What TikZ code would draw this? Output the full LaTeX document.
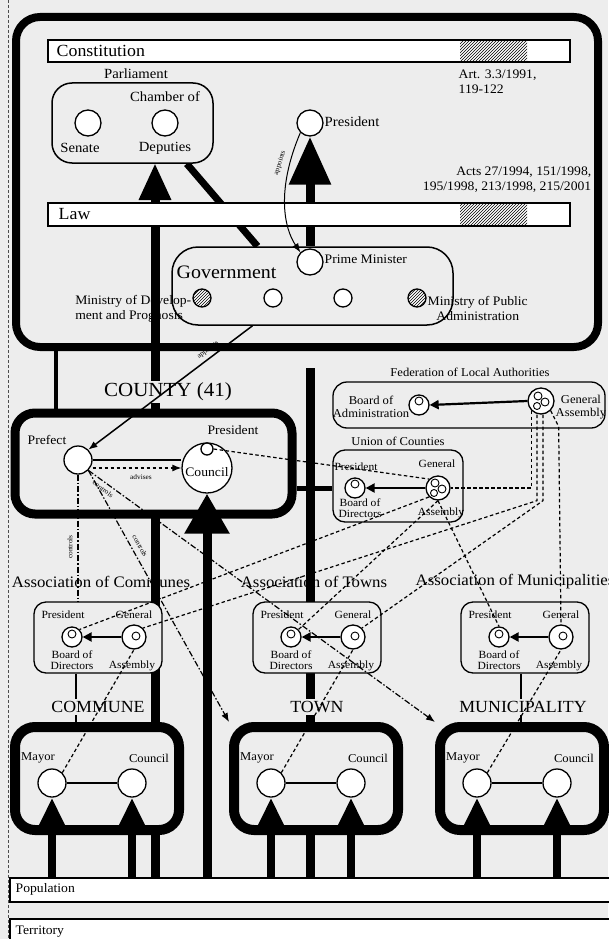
\documentclass[tikz,border=0pt]{standalone}
\usepackage{fontspec}
\setmainfont{Liberation Serif}[FakeStretch=1.05]
\usetikzlibrary{arrows.meta,patterns}
\definecolor{bg}{HTML}{EDEDED}
\pgfdeclarelayer{base}
\pgfdeclarelayer{lines}
\pgfsetlayers{base,lines,main}

\tikzset{
  heavybox/.style={draw, line width=9pt, rounded corners=20pt, fill=bg, inner sep=0pt},
  lightbox/.style={draw, line width=1.3pt, rounded corners=12pt, fill=bg, inner sep=0pt},
  barbox/.style={draw, line width=1.2pt, fill=white, inner sep=0pt},
  hatchbox/.style={pattern=north east lines, inner sep=0pt},
  org/.style={circle, draw, line width=1.3pt, fill=white, inner sep=0pt, minimum size=#1},
  org/.default=26pt,
  hatched/.style={preaction={fill=white}, pattern=north east lines},
  t7/.style={font=\fontsize{7}{8}\selectfont, inner sep=0.5pt},
  t11/.style={font=\fontsize{11}{11.5}\selectfont, inner sep=0.5pt},
  t12/.style={font=\fontsize{12}{13}\selectfont, inner sep=0.5pt},
  t13/.style={font=\fontsize{13}{15}\selectfont, inner sep=0.5pt},
  t14/.style={font=\fontsize{14}{16}\selectfont, inner sep=0.5pt},
  t16/.style={font=\fontsize{16}{18}\selectfont, inner sep=0.5pt},
  t17/.style={font=\fontsize{17}{19}\selectfont, inner sep=0.5pt},
  t19/.style={font=\fontsize{19}{21}\selectfont, inner sep=0.5pt},
  t20/.style={font=\fontsize{20}{22}\selectfont, inner sep=0.5pt},
  vote/.style={line width=9pt},
  link/.style={line width=1.2pt, dash pattern=on 3.5pt off 2.5pt},
  ctrl/.style={line width=1.2pt, dash pattern=on 6pt off 2pt on 1.5pt off 2pt},
  headed/.style={-{Latex[length=9pt,width=7pt]}},
  inner/.style={line width=2.2pt, -{Triangle[width=9pt,length=9pt]}},
  small/.style={line width=0.9pt},
}

\begin{document}
\begin{tikzpicture}[x=1pt,y=-1pt]
\useasboundingbox (0,0) rectangle (608,939);

% ---------- background and state frame
\begin{pgfonlayer}{base}
  \fill[bg] (0,0) rectangle (608,939);
  \draw[line width=0.6pt, dash pattern=on 3pt off 2pt, black!70] (8,0) -- (8,939);
  \node[heavybox, line width=8pt, rounded corners=24pt, minimum width=582pt, minimum height=330pt] (outer) at (307,182) {};
\end{pgfonlayer}

% ---------- legal bars
\node[barbox, minimum width=522pt, minimum height=22pt] (const) at (309,51) {};
\node[hatchbox, minimum width=67pt, minimum height=22pt] (consth) at (493.5,51) {};
\node[t17, anchor=west] (constl) at (56,51) {Constitution};
\node[t13, anchor=north west, align=left] (art) at (458,69) {Art. 3.3/1991,\\119-122};

\node[barbox, minimum width=522pt, minimum height=23pt] (law) at (309,214.5) {};
\node[hatchbox, minimum width=67pt, minimum height=23pt] (lawh) at (493.5,214.5) {};
\node[t17, anchor=west] (lawl) at (58,214) {Law};
\node[t13, anchor=east, align=right] (acts) at (592,180) {Acts 27/1994, 151/1998,\\195/1998, 213/1998, 215/2001};

% ---------- parliament and president
\node[lightbox, line width=1.5pt, rounded corners=20pt, minimum width=161pt, minimum height=80pt] (parl) at (132.5,123) {};
\node[t14] (parll) at (136,74) {Parliament};
\node[t14] (chamb) at (165,97) {Chamber of};
\node[org] (senate) at (88,123) {};
\node[org] (deputies) at (165,123) {};
\node[t14] (senl) at (80,148) {Senate};
\node[t14] (depl) at (165,148) {Deputies};

\node[org] (pres) at (310,123) {};
\node[t14, anchor=west] (presl) at (324,122) {President};

% ---------- government
\node[lightbox, line width=1.5pt, rounded corners=26pt, minimum width=281pt, minimum height=78pt] (gov) at (312.5,286) {};
\node[t19, anchor=west] (govl) at (176,272) {Government};
\node[org] (pm) at (310,262) {};
\node[t13, anchor=west] (pml) at (324,259) {Prime Minister};
\node[org=18pt, hatched] (min1) at (202,298) {};
\node[org=18pt] (min2) at (273,298) {};
\node[org=18pt] (min3) at (343,298) {};
\node[org=18pt, hatched] (min4) at (417,298) {};
\node[t13, anchor=east, align=left] (min1l) at (192,309) {Ministry of Develop-\\ment and Prognosis};
\node[t13, anchor=west, align=center] (min4l) at (427,308) {Ministry of Public\\Administration};

% ---------- county
\node[heavybox, minimum width=277pt, minimum height=101pt] (county) at (153.5,463.5) {};
\node[t20, fill=bg, inner sep=2pt] (countyl) at (168,392) {COUNTY (41)};
\node[t13] (prefl) at (47,440) {Prefect};
\node[org=28pt] (prefect) at (78,460) {};
\node[t13] (cpresl) at (233,430) {President};
\node[org=50pt] (council) at (207,468) {};
\node[org=12pt] (cpres) at (207,449) {};
\node[t13] (councill) at (207,472) {Council};

% ---------- federation and union of counties
\node[lightbox, rounded corners=14pt, minimum width=272pt, minimum height=46pt] (fed) at (469,405) {};
\node[t12] (fedl) at (470,372) {Federation of Local Authorities};
\node[org=20pt] (fboard) at (419,405) {};
\node[org] (fga) at (541,401) {};
\node[t12, align=center] (fboardl) at (371,407) {Board of\\Administration};
\node[t12, anchor=west, align=center] (fgal) at (555,407) {General\\Assembly};

\node[lightbox, minimum width=130pt, minimum height=72pt] (union) at (398,486) {};
\node[t12] (unionl) at (398,441) {Union of Counties};
\node[org=20pt] (uboard) at (355,488) {};
\node[org=24pt] (uga) at (438,488) {};
\node[t11] (upresl) at (356,467) {President};
\node[t11] (ugenl) at (437,464) {General};
\node[t11, align=center] (uboardl) at (360,508) {Board of\\Directors};
\node[t11] (ugal) at (441,513) {Assembly};

% ---------- associations
\foreach \cx/\n in {98/c, 317/t, 525/m} {
  \node[lightbox, minimum width=128pt, minimum height=71pt] (a\n-box) at (\cx,637.5) {};
  \node[org=20pt] (a\n-p) at (\cx-26,637) {};
  \node[org=24pt] (a\n-g) at (\cx+36,637) {};
  \node[t11] (a\n-pl) at (\cx-35,615) {President};
  \node[t11] (a\n-gl) at (\cx+36,615) {General};
  \node[t11, align=center] (a\n-bl) at (\cx-26,660) {Board of\\Directors};
  \node[t11] (a\n-al) at (\cx+34,666) {Assembly};
  \draw[small] ([yshift=3pt]a\n-p.center) circle[radius=4pt];
  \draw[small] ([shift={(2pt,1pt)}]a\n-g.center) circle[radius=4pt];
  \draw[inner] (a\n-g.west) -- (a\n-p.east);
}
\node[t16] (actitle) at (101,582) {Association of Communes};
\node[t16] (attitle) at (314,582) {Association of Towns};
\node[t16, anchor=west] (amtitle) at (415,582) {Association of Municipalities};

% ---------- local councils
\node[barbox, minimum width=604pt, minimum height=24pt] (pop) at (312,890) {};
\node[t13, anchor=west] (popl) at (15,889) {Population};
\node[barbox, minimum width=604pt, minimum height=26pt] (terr) at (312,932) {};
\node[t13, anchor=west] (terrl) at (15,932) {Territory};

\foreach \cx/\n/\ttl in {97/c/COMMUNE, 316/t/TOWN, 522/m/MUNICIPALITY} {
  \node[heavybox, line width=10pt, minimum width=164pt, minimum height=103pt] (\n-box) at (\cx,778.5) {};
  \node[t17, fill=bg, inner sep=2pt] (\n-title) at (\cx+1,707) {\ttl};
  \node[org=28pt] (\n-mayor) at (\cx-45,783) {};
  \node[org=28pt] (\n-council) at (\cx+35,783) {};
  \node[t12] (\n-mayorl) at (\cx-59,758) {Mayor};
  \node[t12] (\n-councill) at (\cx+52,758) {Council};
  \draw[line width=1.5pt] (\n-mayor) -- (\n-council);
  \draw[line width=8pt, -{Triangle[width=28pt,length=32pt]}] (pop.north -| \n-mayor) -- (\n-mayor.south);
  \draw[line width=8pt, -{Triangle[width=28pt,length=32pt]}] (pop.north -| \n-council) -- (\n-council.south);
}

% ---------- small inner marks
\draw[small] ([yshift=4pt]fboard.center) circle[radius=4pt];
\draw[small] ([yshift=4pt]uboard.center) circle[radius=4pt];
\foreach \g in {fga, uga} {
  \draw[small] ([shift={(-3pt,5pt)}]\g.center) circle[radius=4pt];
  \draw[small] ([shift={(4pt,-1pt)}]\g.center) circle[radius=4pt];
  \draw[small] ([shift={(-4pt,-5pt)}]\g.center) circle[radius=3.5pt];
}

% ---------- elections and links running behind the boxes
\coordinate (pvote) at (155,163);
\coordinate (pstop) at (310,368);
\begin{pgfonlayer}{lines}
  \draw[vote, -{Triangle[width=30pt,length=37pt]}] (pop.north -| pvote) -- (pvote);
  \draw[vote] (pop.north -| pstop) -- (pstop);
  \draw[vote] (law.south -| pres) -- (gov.north -| pres);
  \draw[line width=7pt] ([xshift=-27pt]parl.south east) -- ([xshift=-55pt]gov.north);
  \draw[line width=4pt] (outer.south -| 56,0) -- (county.north -| 56,0);
  \draw[line width=5pt] (county.east |- 0,488) -- (union.west |- 0,488);
  \draw[line width=1.3pt] (ac-box.south -| 76,0) -- (c-box.north -| 76,0);
  \draw[line width=1.3pt] (am-box.south -| 521,0) -- (m-box.north -| 521,0);
\end{pgfonlayer}

\draw[vote, -{Triangle[width=40pt,length=48pt]}] (law.north -| pres) -- (pres.south);
\draw[vote, -{Triangle[width=43pt,length=40pt]}] (pop.north -| council) -- (council.south);

% ---------- appointments and controls
\draw[line width=1pt, headed] (pres.south west) .. controls (276,190) and (284,228) .. (pm.north west);
\node[t7, rotate=72] (apl1) at (280,163) {appoints};
\draw[line width=1.5pt, headed] ([xshift=-60pt]gov.south) -- (prefect.north east);
\node[t7, rotate=37] (apl2) at (208,350) {appoints};

\draw[line width=2.4pt] (prefect.east) -- (council.west |- prefect.east);
\draw[link, headed] ([yshift=-8pt]prefect.east) -- (council.west);
\node[t7] (advl) at (141,477) {advises};
\draw[ctrl] (prefect.south) -- (ac-box.north -| prefect);
\node[t7, rotate=90] (ctl1) at (70,547) {controls};
\draw[ctrl, headed] (prefect.south east) -- (t-box.north west);
\node[t7, rotate=-60] (ctl2) at (140,546) {controls};
\draw[ctrl, headed] (prefect.south east) -- (m-box.north west);
\node[t7, rotate=-36] (ctl3) at (103,489) {controls};

% ---------- internal chains
\draw[inner] (fga.west) -- (fboard.east);
\draw[inner] (uga.west) -- (uboard.east);

% ---------- representation links
\draw[link] (cpres.east) -- (uga.north west);
\draw[link] (fga.south west) |- (uga.east);
\draw[link] ([xshift=-4pt]fga.south) -- ++(0,86) -- (ac-g.north east);
\draw[link] ([xshift=2pt]fga.south) -- ++(0,86) -- (at-g.north east);
\draw[link] (fga.south east) -- ++(8,16) -- (am-g.north);
\draw[link] (uga.south west) -- (ac-p.north east);
\draw[link] (uga.south) -- (at-p.north east);
\draw[link] (uga.south) -- (am-p.north);
\draw[link] (c-mayor.north east) -- (ac-g.south);
\draw[link] (t-mayor.north east) -- (at-g.south);
\draw[link] (m-mayor.north east) -- (am-g.south);
\end{tikzpicture}
\end{document}
